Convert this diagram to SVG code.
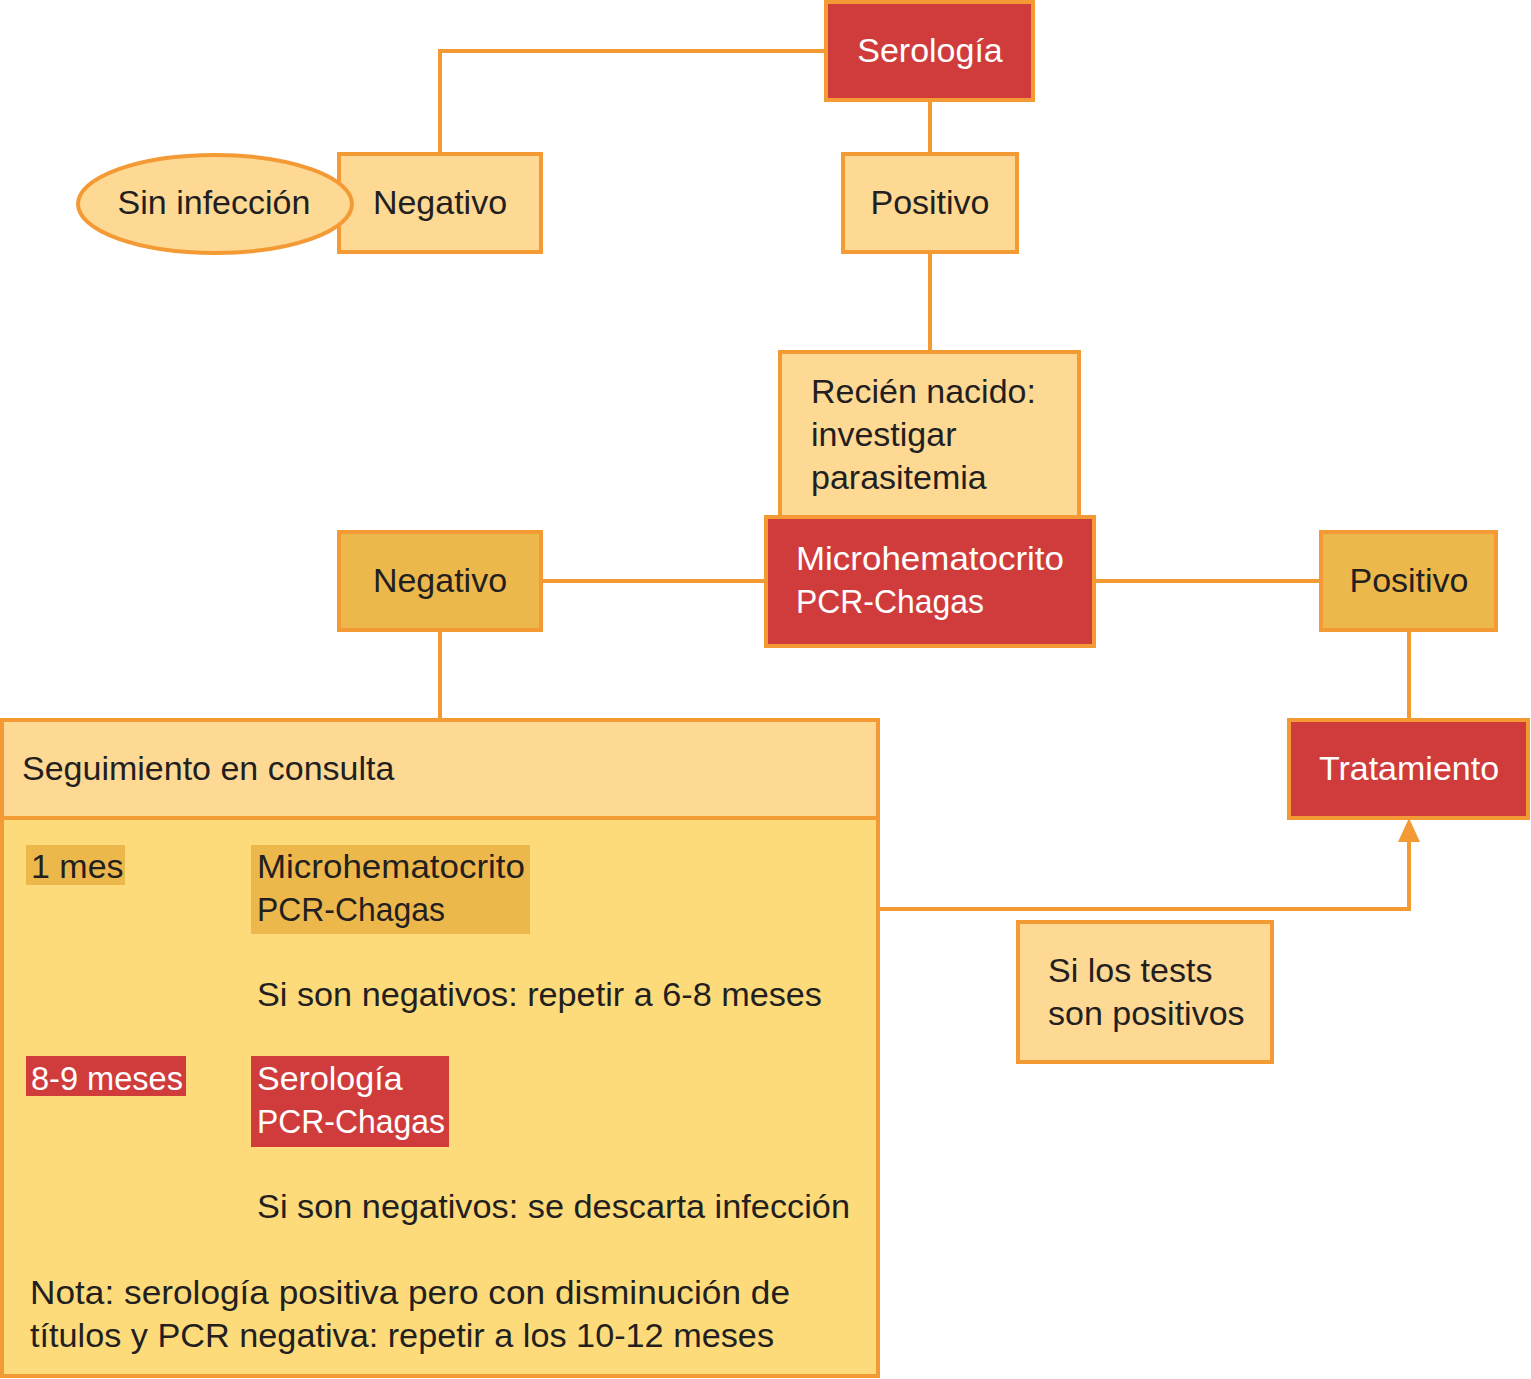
<svg xmlns="http://www.w3.org/2000/svg" width="1531" height="1379" viewBox="0 0 1531 1379">
<style>
.red{fill:#D03C3C;stroke:#F49A35;stroke-width:4}
.lt{fill:#FDD994;stroke:#F49A35;stroke-width:4}
.dk{fill:#EDB84B;stroke:#F49A35;stroke-width:4}
.body{fill:#FDDB7A;stroke:#F49A35;stroke-width:4}
text{font-family:"Liberation Sans",Arial,sans-serif;font-size:34px;fill:#231F20}
.w{fill:#FFFFFF}
.c{text-anchor:middle}
.ln{fill:none;stroke:#F49A35;stroke-width:4}
.arrow{fill:#F49A35}
</style>
<g id="connectors">
<polyline class="ln" points="826,51 440,51 440,154"/>
<line class="ln" x1="930" y1="100" x2="930" y2="154"/>
<line class="ln" x1="930" y1="252" x2="930" y2="352"/>
<line class="ln" x1="541" y1="581" x2="766" y2="581"/>
<line class="ln" x1="1094" y1="581" x2="1321" y2="581"/>
<line class="ln" x1="440" y1="630" x2="440" y2="720"/>
<line class="ln" x1="1409" y1="630" x2="1409" y2="720"/>
<polyline class="ln" points="878,909 1409,909 1409,840"/>
<polygon class="arrow" points="1398,842 1409,818 1420,842"/>
</g>
<g id="serologia">
<rect class="red" x="826" y="2" width="207" height="98"/>
<text class="w c" x="930" y="62">Serología</text>
</g>
<g id="negativo1">
<rect class="lt" x="339" y="154" width="202" height="98"/>
<text class="c" x="440" y="214">Negativo</text>
</g>
<g id="sin-infeccion">
<ellipse class="lt" cx="215" cy="204" rx="137" ry="49"/>
<text class="c" x="214" y="214">Sin infección</text>
</g>
<g id="positivo1">
<rect class="lt" x="843" y="154" width="174" height="98"/>
<text class="c" x="930" y="214">Positivo</text>
</g>
<g id="recien-nacido">
<rect class="lt" x="780" y="352" width="299" height="165"/>
<text x="811" y="403">Recién nacido:</text>
<text x="811" y="446">investigar</text>
<text x="811" y="489">parasitemia</text>
</g>
<g id="microhematocrito">
<rect class="red" x="766" y="517" width="328" height="129"/>
<text class="w" x="796" y="570" textLength="268" lengthAdjust="spacingAndGlyphs">Microhematocrito</text>
<text class="w" x="796" y="613" textLength="188" lengthAdjust="spacingAndGlyphs">PCR-Chagas</text>
</g>
<g id="negativo2">
<rect class="dk" x="339" y="532" width="202" height="98"/>
<text class="c" x="440" y="592">Negativo</text>
</g>
<g id="positivo2">
<rect class="dk" x="1321" y="532" width="175" height="98"/>
<text class="c" x="1409" y="592">Positivo</text>
</g>
<g id="tratamiento">
<rect class="red" x="1289" y="720" width="239" height="98"/>
<text class="w c" x="1409" y="780">Tratamiento</text>
</g>
<g id="si-tests">
<rect class="lt" x="1018" y="922" width="254" height="140"/>
<text x="1048" y="982">Si los tests</text>
<text x="1048" y="1025">son positivos</text>
</g>
<g id="seguimiento">
<rect class="body" x="2" y="720" width="876" height="656"/>
<rect class="lt" x="2" y="720" width="876" height="98"/>
<text x="22" y="780">Seguimiento en consulta</text>
<rect x="26" y="845" width="99" height="40" fill="#EDB84B"/>
<text x="31" y="878">1 mes</text>
<rect x="251" y="845" width="279" height="89" fill="#EDB84B"/>
<text x="257" y="878" textLength="268" lengthAdjust="spacingAndGlyphs">Microhematocrito</text>
<text x="257" y="921" textLength="188" lengthAdjust="spacingAndGlyphs">PCR-Chagas</text>
<text x="257" y="1006" textLength="565" lengthAdjust="spacingAndGlyphs">Si son negativos: repetir a 6-8 meses</text>
<rect x="26" y="1056" width="160" height="40" fill="#D03C3C"/>
<text class="w" x="31" y="1090" textLength="152" lengthAdjust="spacingAndGlyphs">8-9 meses</text>
<rect x="251" y="1056" width="198" height="91" fill="#D03C3C"/>
<text class="w" x="257" y="1090">Serología</text>
<text class="w" x="257" y="1133" textLength="188" lengthAdjust="spacingAndGlyphs">PCR-Chagas</text>
<text x="257" y="1218" textLength="593" lengthAdjust="spacingAndGlyphs">Si son negativos: se descarta infección</text>
<text x="30" y="1304" textLength="760" lengthAdjust="spacingAndGlyphs">Nota: serología positiva pero con disminución de</text>
<text x="30" y="1347" textLength="744" lengthAdjust="spacingAndGlyphs">títulos y PCR negativa: repetir a los 10-12 meses</text>
</g>
</svg>
